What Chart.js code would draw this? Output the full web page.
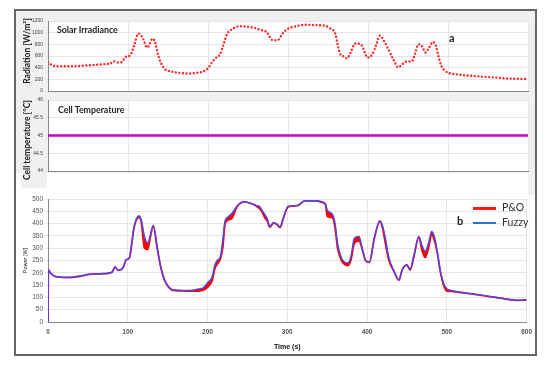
<!DOCTYPE html>
<html>
<head>
<meta charset="utf-8">
<title>Solar irradiance, cell temperature and power</title>
<script src="https://cdn.jsdelivr.net/npm/chart.js@4.4.0/dist/chart.umd.min.js"></script>
<style>
  body { margin: 0; width: 550px; height: 368px; background: #fff; position: relative; overflow: hidden; font-family: Lato, "Open Sans", sans-serif; }
  .abs { position: absolute; }
  .gray { background: #f0f0f0; }
  canvas { position: absolute; }
  .panel-title { position: absolute; font-weight: bold; font-size: 8.8px; color: #222; white-space: nowrap; }
  .ylab { position: absolute; font-weight: bold; font-size: 8.5px; color: #222; white-space: nowrap; transform: translate(-50%, -50%) rotate(-90deg); }
  .tag { position: absolute; font-weight: bold; font-size: 11px; color: #222; }
  .legend-row { position: absolute; left: 473px; font-size: 10.5px; color: #333; white-space: nowrap; }
  .legend-row span { display: inline-block; width: 23px; height: 2.5px; vertical-align: middle; margin-right: 6px; }
</style>
</head>
<body>
<div class="abs" style="left:14px;top:9px;width:519px;height:343px;border:2px solid #666;"></div>
<div class="abs gray" style="left:16px;top:11px;width:519px;height:162px;"></div>
<div class="abs gray" style="left:21px;top:173px;width:26px;height:15px;"></div>
<div class="abs gray" style="left:528px;top:173px;width:7px;height:22px;"></div>

<canvas id="irrChart" width="521" height="88" style="left:14px;top:10px"></canvas>
<canvas id="tempChart" width="521" height="84" style="left:14px;top:92px"></canvas>
<canvas id="powerChart" width="524" height="166" style="left:14px;top:188px"></canvas>

<div class="ylab" style="left:27px;top:51px;">Radiation [W/m²]</div>
<div class="ylab" style="left:27px;top:140px;">Cell temperature [°C]</div>
<div class="panel-title" style="left:57px;top:24px;">Solar Irradiance</div>
<div class="panel-title" style="left:58px;top:104px;">Cell Temperature</div>
<div class="tag" style="left:449px;top:31px;">a</div>
<div class="tag" style="left:457px;top:214px;">b</div>
<div id="legend"></div>

<script>
// ----- Data -----
const irrTime = [0, 5, 10, 20, 30, 40, 50, 60, 70, 78, 82, 87, 92, 97, 103, 108, 113, 118, 124, 131, 134, 138, 145, 151, 157, 165, 174, 185, 194, 200, 205, 209, 215, 219, 224, 230, 240, 250, 257, 265, 274, 279, 283, 288, 293, 299, 310, 322, 335, 347, 353, 359, 362, 365, 370, 374, 378, 384, 388, 392, 396, 399, 405, 410, 415, 420, 426, 432, 438, 443, 447, 451, 455, 459, 463, 467, 472, 477, 481, 485, 488, 492, 496, 501, 515, 534, 555, 575, 600];
const irradiance = [495, 440, 425, 425, 425, 430, 440, 450, 460, 470, 510, 490, 495, 585, 614, 800, 985, 920, 745, 900, 830, 600, 390, 345, 325, 310, 300, 310, 335, 390, 490, 557, 630, 780, 980, 1060, 1110, 1100, 1085, 1050, 1000, 885, 870, 880, 980, 1060, 1110, 1135, 1130, 1115, 1070, 985, 800, 640, 590, 560, 650, 815, 810, 785, 660, 575, 620, 780, 950, 860, 700, 530, 405, 460, 500, 505, 510, 650, 800, 780, 660, 760, 840, 770, 600, 420, 350, 310, 280, 255, 235, 215, 205];

const tempTime = [0, 600];
const cellTemp = [45, 45];

const powerTime = [0, 0.5, 3, 9, 24, 40, 52, 65, 77, 81, 84, 88, 94, 98, 102, 105, 108, 114, 117, 121, 125, 128, 132, 137, 141, 144, 147, 151, 156, 165, 173, 181, 189, 195, 199.5, 206, 209, 212, 216, 219, 222, 226, 231, 237, 246, 255, 260, 265, 268, 272, 275, 278, 283, 287, 291, 295, 301, 306, 313, 322, 336, 344, 348, 350, 357, 360, 363, 366, 369, 376, 380, 384, 390, 394, 398, 403, 409, 416, 419, 423, 427, 434, 440, 444, 450, 454, 458, 465, 469, 473, 477, 481, 485, 488, 492, 496, 500, 506, 515, 531, 550, 572, 589, 600];
const fuzzyPower = [0, 212, 200, 185, 181, 186, 194, 196, 199, 205, 224, 210, 220, 253, 260, 320, 389, 432, 415, 348, 321, 350, 393, 301, 230, 192, 165, 145, 131, 129, 128, 129, 134, 140, 158, 185, 230, 250, 265, 330, 412, 428, 443, 472, 488, 481, 474, 470, 456, 436, 420, 389, 405, 398, 386, 423, 470, 472, 474, 493, 493, 488, 480, 456, 436, 400, 321, 280, 253, 240, 270, 341, 348, 300, 253, 244, 341, 412, 395, 341, 267, 206, 172, 213, 233, 213, 260, 348, 310, 287, 320, 368, 340, 287, 206, 158, 135, 128, 122, 115, 106, 95, 88, 90];
const poPower = [0, 212, 200, 185, 181, 186, 194, 196, 199, 205, 224, 210, 220, 253, 260, 318, 385, 425, 405, 300, 295, 340, 390, 298, 228, 190, 163, 143, 129, 127, 126, 126, 126, 130, 140, 170, 215, 235, 255, 300, 398, 415, 423, 468, 488, 481, 474, 462, 450, 423, 410, 386, 403, 396, 384, 421, 468, 471, 473, 492, 492, 486, 476, 430, 423, 380, 301, 265, 244, 229, 255, 320, 330, 295, 250, 242, 338, 408, 388, 320, 255, 204, 170, 211, 231, 211, 256, 345, 290, 262, 300, 355, 325, 283, 203, 150, 126, 125, 121, 114, 105, 94, 88, 89];

const seriesNames = ['P&O', 'Fuzzy'];
const legendColors = ['#ff1a1a', '#2a72d4'];

const timeTicks = [0, 100, 200, 300, 400, 500, 600];

// ----- Helpers -----
function toPoints(xs, ys) {
  return xs.map((x, i) => ({ x: x, y: ys[i] }));
}
function fixWidth(w) {
  return (scale) => { scale.width = w; };
}
function fixHeight(h) {
  return (scale) => { scale.height = h; };
}
// plain numbers, no thousands separator
const plain = (v) => String(v);

// white plotting area on top of the gray figure background
const whiteArea = {
  id: 'whiteArea',
  beforeDraw(chart) {
    const a = chart.chartArea;
    const ctx = chart.ctx;
    ctx.save();
    ctx.fillStyle = '#fff';
    ctx.fillRect(a.left, a.top, a.right - a.left, a.bottom - a.top);
    ctx.restore();
  }
};

const gridColor = '#e6e6e6';

function timeAxis(extra) {
  return Object.assign({
    type: 'linear',
    min: 0,
    max: 600,
    afterBuildTicks: (scale) => { scale.ticks = timeTicks.map((v) => ({ value: v })); },
    grid: { color: gridColor, drawTicks: false },
    border: { color: '#888' }
  }, extra);
}

// ----- (a) Solar irradiance -----
new Chart(document.getElementById('irrChart'), {
  type: 'line',
  data: {
    datasets: [{
      data: toPoints(irrTime, irradiance),
      borderColor: '#ff2626',
      borderWidth: 2.4,
      borderDash: [0, 3.6],
      borderCapStyle: 'round',
      pointRadius: 0,
      cubicInterpolationMode: 'monotone',
      fill: false
    }]
  },
  options: {
    responsive: false,
    animation: false,
    layout: { padding: { top: 11, right: 7, bottom: 0, left: 0 } },
    plugins: { legend: { display: false }, tooltip: { enabled: false } },
    scales: {
      x: timeAxis({ ticks: { display: false }, afterFit: fixHeight(7) }),
      y: {
        min: 0,
        max: 1200,
        ticks: { stepSize: 200, font: { size: 5 }, color: '#444', padding: 2, callback: plain },
        grid: { color: gridColor, tickLength: 3 },
        border: { color: '#888' },
        afterFit: fixWidth(34)
      }
    }
  },
  plugins: [whiteArea]
});

// ----- Cell temperature -----
new Chart(document.getElementById('tempChart'), {
  type: 'line',
  data: {
    datasets: [{
      data: toPoints(tempTime, cellTemp),
      borderColor: '#c800c8',
      borderWidth: 2.5,
      pointRadius: 0,
      fill: false
    }]
  },
  options: {
    responsive: false,
    animation: false,
    layout: { padding: { top: 8, right: 7, bottom: 0, left: 0 } },
    plugins: { legend: { display: false }, tooltip: { enabled: false } },
    scales: {
      x: timeAxis({ ticks: { display: false }, afterFit: fixHeight(5) }),
      y: {
        min: 44,
        max: 46,
        ticks: { stepSize: 0.5, font: { size: 5 }, color: '#444', padding: 2, callback: plain },
        grid: { color: gridColor, tickLength: 3 },
        border: { color: '#888' },
        afterFit: fixWidth(34)
      }
    }
  },
  plugins: [whiteArea]
});

// ----- (b) Power, P&O vs Fuzzy -----
new Chart(document.getElementById('powerChart'), {
  type: 'line',
  data: {
    datasets: [
      {
        label: seriesNames[0],
        data: toPoints(powerTime, poPower),
        borderColor: '#ff0000',
        backgroundColor: '#ff0000',
        borderWidth: 1.8,
        pointRadius: 0,
        cubicInterpolationMode: 'monotone',
        fill: 1,
        order: 2
      },
      {
        label: seriesNames[1],
        data: toPoints(powerTime, fuzzyPower),
        borderColor: '#4848f8',
        borderWidth: 1.4,
        pointRadius: 0,
        cubicInterpolationMode: 'monotone',
        fill: false,
        order: 1
      }
    ]
  },
  options: {
    responsive: false,
    animation: false,
    layout: { padding: { top: 11, right: 7, bottom: 0, left: 0 } },
    plugins: { legend: { display: false }, tooltip: { enabled: false } },
    scales: {
      x: timeAxis({
        ticks: { font: { size: 6.5, weight: 'bold' }, color: '#555', padding: 6 },
        title: { display: true, text: 'Time (s)', font: { size: 7, weight: 'bold' }, color: '#111', padding: { top: 0, bottom: 3 } },
        afterFit: fixHeight(32)
      }),
      y: {
        min: 0,
        max: 500,
        ticks: { stepSize: 50, font: { size: 6.5 }, color: '#555', padding: 2 },
        grid: { color: gridColor, tickLength: 3 },
        border: { color: '#888' },
        title: { display: true, text: 'Power [W]', font: { size: 5.5 }, color: '#222', padding: { top: 8, bottom: 0 } },
        afterFit: fixWidth(34)
      }
    }
  }
});

// ----- Legend -----
const legend = document.getElementById('legend');
seriesNames.forEach((name, i) => {
  const row = document.createElement('div');
  row.className = 'legend-row';
  row.style.top = (201 + i * 14.5) + 'px';
  row.innerHTML = '<span style="background:' + legendColors[i] + '"></span>' + name.replace('&', '&amp;');
  legend.appendChild(row);
});
</script>
</body>
</html>
